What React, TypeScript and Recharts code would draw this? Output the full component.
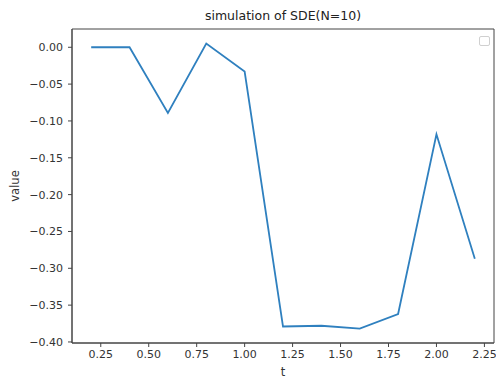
import {
  LineChart,
  Line,
  XAxis,
  YAxis,
  ReferenceArea,
} from 'recharts';

const tValues = [0.2, 0.4, 0.6, 0.8, 1.0, 1.2, 1.4, 1.6, 1.8, 2.0, 2.2];
const simValues = [0, 0, -0.089, 0.005, -0.033, -0.379, -0.378, -0.382, -0.362, -0.118, -0.287];
const xTicks = [0.25, 0.5, 0.75, 1.0, 1.25, 1.5, 1.75, 2.0, 2.25];
const yTicks = [-0.4, -0.35, -0.3, -0.25, -0.2, -0.15, -0.1, -0.05, 0];

const X_DOMAIN: [number, number] = [0.1, 2.3];
const Y_DOMAIN: [number, number] = [-0.4014, 0.0248];

const data = tValues.map((t, i) => ({ t, value: simValues[i] }));

const FONT = '"DejaVu Sans", sans-serif';
const AXIS = '#444';
const TEXT = '#333';

const fmt = (v: number) => {
  const s = Math.abs(v).toFixed(2);
  return v < -1e-9 ? '\u2212' + s : s;
};

const YLabel = (props: any) => {
  const { viewBox } = props;
  const cx = 15;
  const cy = viewBox.y + viewBox.height / 2;
  return (
    <text
      x={cx}
      y={cy}
      transform={`rotate(-90 ${cx} ${cy})`}
      textAnchor="middle"
      dominantBaseline="central"
      fill={TEXT}
      fontSize={11.5}
      fontFamily={FONT}
    >
      value
    </text>
  );
};

const XLabel = (props: any) => {
  const { viewBox } = props;
  const cx = viewBox.x + viewBox.width / 2;
  return (
    <text
      x={cx}
      y={372}
      textAnchor="middle"
      dominantBaseline="central"
      fill={TEXT}
      fontSize={11.5}
      fontFamily={FONT}
    >
      t
    </text>
  );
};

export default function App() {
  return (
    <div style={{ position: 'absolute', left: 0, top: 0, width: 496, height: 379, background: '#fff' }}>
      <div
        style={{
          position: 'absolute',
          left: 72,
          width: 422,
          top: 7,
          textAlign: 'center',
          fontFamily: FONT,
          fontSize: 12.5,
          color: '#222',
          lineHeight: '18px',
        }}
      >
        simulation of SDE(N=10)
      </div>
      {/* empty matplotlib legend frame */}
      <div
        style={{
          position: 'absolute',
          left: 479,
          top: 36,
          width: 9,
          height: 8,
          border: '1px solid #d0d0d0',
          borderRadius: 2,
          background: '#fff',
          zIndex: 2,
        }}
      />
      <LineChart
        width={496}
        height={379}
        data={data}
        margin={{ top: 29, right: 2, bottom: 0, left: 0 }}
      >
        <XAxis
          type="number"
          dataKey="t"
          domain={X_DOMAIN}
          ticks={xTicks}
          tickFormatter={fmt}
          height={36}
          tickSize={4}
          tickMargin={3}
          stroke={AXIS}
          tick={{ fill: TEXT, fontSize: 11, fontFamily: FONT }}
          allowDataOverflow
          label={<XLabel />}
        />
        <YAxis
          type="number"
          dataKey="value"
          domain={Y_DOMAIN}
          ticks={yTicks}
          tickFormatter={fmt}
          width={72}
          tickSize={4}
          tickMargin={5}
          stroke={AXIS}
          tick={{ fill: TEXT, fontSize: 11, fontFamily: FONT }}
          allowDataOverflow
          label={<YLabel />}
        />
        <ReferenceArea
          x1={X_DOMAIN[0]}
          x2={X_DOMAIN[1]}
          y1={Y_DOMAIN[0]}
          y2={Y_DOMAIN[1]}
          fill="none"
          stroke={AXIS}
          strokeWidth={1}
          ifOverflow="visible"
        />
        <Line
          type="linear"
          dataKey="value"
          stroke="#2f80bf"
          strokeWidth={1.8}
          dot={false}
          isAnimationActive={false}
        />
      </LineChart>
    </div>
  );
}
